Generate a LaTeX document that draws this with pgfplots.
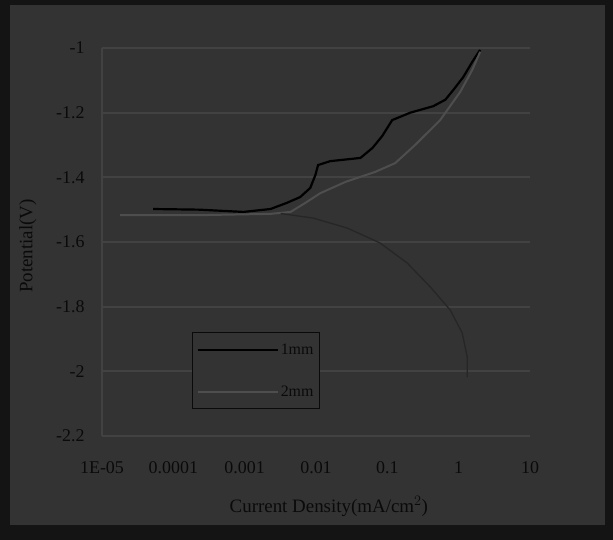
\documentclass[border=0pt]{standalone}
\usepackage{pgfplots}
\pgfplotsset{compat=1.18}
\usepackage{fontspec}
\setmainfont{Liberation Serif}
\definecolor{bgc}{HTML}{333333}
\definecolor{gridc}{HTML}{424242}
\definecolor{outc}{HTML}{141414}
\definecolor{txt}{HTML}{0A0A0A}
\definecolor{gline}{HTML}{4E4E4E}
\begin{document}
\begin{tikzpicture}[x=1bp,y=1bp]
\fill[outc] (-102,-104) rectangle (511,436);
\fill[bgc] (-92,-89) rectangle (503,431);
\begin{axis}[
  at={(0,0)}, anchor=south west, scale only axis,
  width=428bp, height=388bp,
  xmode=log, xmin=1e-5, xmax=10, ymin=-2.2, ymax=-1,
  xtick={1e-5,1e-4,1e-3,1e-2,1e-1,1,10},
  xticklabels={1E-05,0.0001,0.001,0.01,0.1,1,10},
  ytick={-2.2,-2,-1.8,-1.6,-1.4,-1.2,-1},
  yticklabels={-2.2,-2,-1.8,-1.6,-1.4,-1.2,-1},
  minor xtick={},
  ymajorgrids, major grid style={gridc, line width=2pt},
  axis line style={gridc, line width=1.5pt},
  axis x line*=bottom, axis y line*=left,
  tick style={draw=none},
  tick label style={font=\fontsize{18}{21}\selectfont, text=txt},
  xticklabel style={yshift=-22bp},
  yticklabel style={xshift=-14bp},
  xlabel={Current Density(mA/cm$^{2}$)},
  ylabel={Potential(V)},
  label style={font=\fontsize{19}{22}\selectfont, text=txt},
  xlabel style={at={(axis description cs:0.53,0)}, anchor=north, yshift=-57bp},
  ylabel style={at={(axis description cs:0,0.49)}, anchor=south, xshift=0bp, yshift=62bp},
  legend style={at={(0.21,0.268)}, anchor=north west, fill=bgc, draw=txt,
    line width=1.4pt, font=\fontsize{16}{18}\selectfont, text=txt,
    row sep=26bp, inner xsep=4bp, inner ysep=9bp},
  legend cell align=right,
  legend image code/.code={\draw[#1] (0bp,0bp) -- (80bp,0bp);},
]
\addplot[black, line width=2.2pt] coordinates {
(5.2e-5,-1.498) (2.3e-4,-1.500) (9.6e-4,-1.507) (2.3e-3,-1.498) (3.9e-3,-1.479)
(6.0e-3,-1.461) (8.3e-3,-1.433) (9.8e-3,-1.393) (1.07e-2,-1.362) (1.58e-2,-1.350)
(4.2e-2,-1.340) (6.2e-2,-1.309) (8.5e-2,-1.272) (0.1,-1.247) (0.117,-1.223)
(0.21,-1.200) (0.44,-1.180) (0.65,-1.160) (0.84,-1.130) (1.16,-1.090)
(1.55,-1.043) (2.0,-1.006)};
\addlegendentry{1mm}
\addplot[gline, line width=2pt] coordinates {
(1.8e-5,-1.517) (2.3e-4,-1.517) (2.3e-3,-1.513) (4.4e-3,-1.507) (7.1e-3,-1.479)
(1.15e-2,-1.449) (2.6e-2,-1.414) (6.8e-2,-1.383) (0.129,-1.356) (0.245,-1.300)
(0.55,-1.223) (1.05,-1.136) (1.55,-1.068) (2.0,-1.012)};
\addlegendentry{2mm}
\addplot[black!85, line width=1.3pt, forget plot] coordinates {
(3.2e-3,-1.512) (9.1e-3,-1.526) (2.75e-2,-1.557) (7.9e-2,-1.603) (0.19,-1.665)
(0.40,-1.739) (0.76,-1.810) (1.12,-1.881) (1.32,-1.956) (1.32,-2.018)};
\end{axis}
\end{tikzpicture}
\end{document}
